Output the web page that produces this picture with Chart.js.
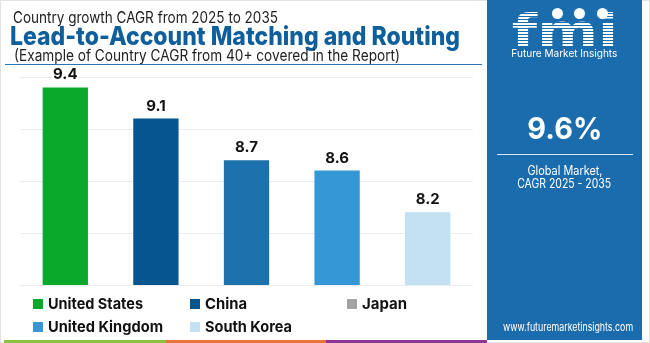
<!DOCTYPE html>
<html>
<head>
<meta charset="utf-8">
<script src="https://cdn.jsdelivr.net/npm/chart.js@4"></script>
<style>
  html, body { margin: 0; padding: 0; background: #fff; }
  body { width: 650px; height: 343px; position: relative; overflow: hidden; font-family: Inter, "Open Sans", sans-serif; }
  .frame { position: absolute; left: 0; top: 0; width: 648px; height: 341px; border: 1px solid #e2e2e2; }
  .t { position: absolute; white-space: nowrap; display: inline-block; transform-origin: left center; }
  .sub1 { left: 13px; top: 7px; font-size: 16px; color: #222; }
  .title { left: 10px; top: 20px; font-size: 26px; font-weight: 800; color: #0e5f9c; }
  .sub2 { left: 14px; top: 46px; font-size: 15.5px; color: #222; }
  .rule { position: absolute; left: 5px; top: 64px; width: 477px; height: 1px; background: #2a74b0; }
  #wrap { position: absolute; left: 0; top: 60px; width: 480px; height: 240px; }
  .sw { position: absolute; width: 10px; height: 10px; }
  .li { font-weight: 700; font-size: 15px; color: #111; line-height: 18px; }
  .strip { position: absolute; top: 340px; height: 3px; }
  .panel { position: absolute; left: 487px; top: 0; width: 155px; height: 340px; background: #1b6cad; color: #fff; }
  .c { position: absolute; left: 0; width: 155px; text-align: center; white-space: nowrap; }
  .c span { display: inline-block; transform-origin: center center; }
  .logo span { font-family: "DejaVu Sans", sans-serif; font-weight: 900; font-size: 46px; line-height: 40px;
          background: repeating-linear-gradient(#fff 0 2px, #1b6cad 2px 3px); -webkit-background-clip: text; background-clip: text; color: transparent; }
  .dot { position: absolute; top: 8px; width: 11px; height: 11px; border-radius: 50%; background: #fff; }
  .hr { position: absolute; left: 10px; top: 154px; width: 136px; height: 1px; background: #d6e6f4; }
</style>
</head>
<body>
<div class="frame"></div>
<div class="t sub1" data-w="265">Country growth CAGR from 2025 to 2035</div>
<div class="t title" data-w="450">Lead-to-Account Matching and Routing</div>
<div class="t sub2" data-w="386">(Example of Country CAGR from 40+ covered in the Report)</div>
<div class="rule"></div>
<div id="wrap"><canvas id="chart"></canvas></div>
<div id="legend"></div>
<div class="strip" style="left:4px;width:162px;background:#8dc13f"></div>
<div class="strip" style="left:166px;width:160px;background:#e8743b"></div>
<div class="strip" style="left:326px;width:161px;background:#8b3596"></div>
<div class="panel">
  <div class="c logo" style="top:11px"><span data-w="106">fmi</span></div>
  <div class="dot" style="left:65px"></div>
  <div class="dot" style="left:87px"></div>
  <div class="dot" style="left:110px"></div>
  <div class="c" style="top:47px;font-size:10.5px"><span data-w="106">Future Market Insights</span></div>
  <div class="c" style="top:110px;font-size:30px;font-weight:700"><span data-w="75">9.6%</span></div>
  <div class="hr"></div>
  <div class="c" style="top:163px;font-size:12.5px"><span data-w="75">Global Market,</span></div>
  <div class="c" style="top:176px;font-size:12.5px"><span data-w="94">CAGR 2025 - 2035</span></div>
  <div class="c" style="top:320px;font-size:11px"><span data-w="130">www.futuremarketinsights.com</span></div>
</div>
<script>
// categories and values
const countries = ['United States', 'China', 'Japan', 'United Kingdom', 'South Korea'];
const cagr = [9.4, 9.1, 8.7, 8.6, 8.2];
const barColors = ['#0aa92b', '#06558f', '#1b72ad', '#3597d6', '#c3e1f2'];
// legend swatches (Japan shows grey in the legend)
const legendColors = ['#0aa92b', '#06558f', '#a3a3a3', '#3597d6', '#c3e1f2'];
const legendWidths = [95, 42, 45, 115, 87];

// legend, laid out in fixed columns like the original
const legend = document.getElementById('legend');
countries.forEach((name, i) => {
  const x = 33 + (i % 3) * 157;
  const y = 299 + Math.floor(i / 3) * 23;
  const sw = document.createElement('div');
  sw.className = 'sw';
  sw.style.left = x + 'px';
  sw.style.top = y + 'px';
  sw.style.background = legendColors[i];
  legend.appendChild(sw);
  const t = document.createElement('div');
  t.className = 't li';
  t.style.left = (x + 15) + 'px';
  t.style.top = (y - 4) + 'px';
  t.dataset.w = legendWidths[i];
  t.textContent = name;
  legend.appendChild(t);
});

// squeeze texts to the widths measured on the picture
function fit() {
  document.querySelectorAll('[data-w]').forEach(el => {
    el.style.transform = '';
    const w = el.getBoundingClientRect().width;
    el.style.transform = 'scaleX(' + (el.dataset.w / w) + ')';
  });
}
fit();
document.fonts.ready.then(fit);

// values above the bars
const valueLabels = {
  id: 'valueLabels',
  afterDatasetsDraw(chart) {
    const ctx = chart.ctx;
    const meta = chart.getDatasetMeta(0);
    ctx.save();
    ctx.font = '700 15px Inter, sans-serif';
    ctx.fillStyle = '#111';
    ctx.textAlign = 'center';
    ctx.textBaseline = 'bottom';
    meta.data.forEach((bar, i) => {
      ctx.fillText(cagr[i].toFixed(1), bar.x, bar.y - 5);
    });
    ctx.restore();
  }
};

new Chart(document.getElementById('chart'), {
  type: 'bar',
  data: {
    labels: countries,
    datasets: [{
      data: cagr,
      backgroundColor: barColors,
      barPercentage: 0.5,
      categoryPercentage: 1
    }]
  },
  options: {
    responsive: true,
    maintainAspectRatio: false,
    animation: false,
    layout: { padding: { left: 20, right: 7, top: 17, bottom: 7 } },
    plugins: { legend: { display: false }, tooltip: { enabled: false } },
    scales: {
      x: { ticks: { display: false }, grid: { display: false }, border: { display: false } },
      y: {
        min: 7.5, max: 9.5,
        ticks: { display: false, stepSize: 0.5 },
        grid: { color: '#ececec', drawTicks: false },
        border: { display: false }
      }
    }
  },
  plugins: [valueLabels]
});
</script>
</body>
</html>
